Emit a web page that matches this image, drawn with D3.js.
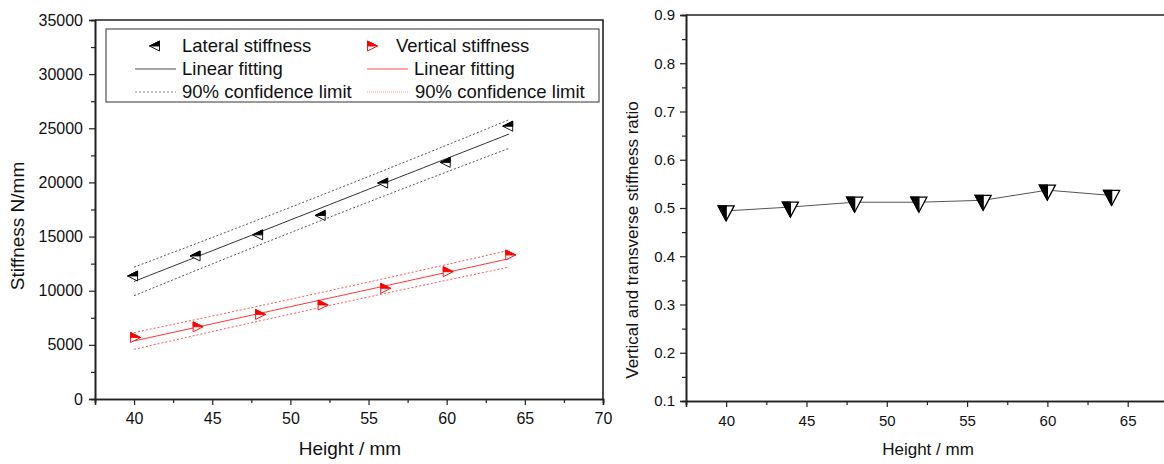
<!DOCTYPE html>
<html><head><meta charset="utf-8">
<script src="https://cdn.jsdelivr.net/npm/d3@7"></script>
<style>body{margin:0;background:#fff} text{font-family:"Liberation Sans",Arial,sans-serif;fill:#111}</style>
</head><body><svg id="c" width="1164" height="464"></svg>
<script>
// ---- data ----
const heights = [40, 44, 48, 52, 56, 60, 64];
const lateralStiffness = [11360, 13210, 15160, 16950, 19940, 21850, 25190];
const verticalStiffness = [5680, 6670, 7810, 8680, 10220, 11760, 13300];
const stiffnessRatio = [0.494, 0.502, 0.512, 0.512, 0.516, 0.537, 0.526];
const leftXTicks = [40, 45, 50, 55, 60, 65, 70];
const leftYTicks = [0, 5000, 10000, 15000, 20000, 25000, 30000, 35000];
const rightXTicks = [40, 45, 50, 55, 60, 65];
const rightYTicks = [0.1, 0.2, 0.3, 0.4, 0.5, 0.6, 0.7, 0.8, 0.9];
const legendLabels = ["Lateral stiffness", "Vertical stiffness", "Linear fitting", "90% confidence limit"];
const tValue90 = 2.015; // t(0.95, df=5)

const svg = d3.select("#c");

// linear regression with 90% prediction band
function fit(xs, ys) {
  const n = xs.length, xm = d3.mean(xs), ym = d3.mean(ys);
  const sxx = d3.sum(xs, x => (x - xm) ** 2);
  const sxy = d3.sum(xs, (x, i) => (x - xm) * (ys[i] - ym));
  const b = sxy / sxx, a = ym - b * xm;
  const sse = d3.sum(xs, (x, i) => (ys[i] - (a + b * x)) ** 2);
  const s = Math.sqrt(sse / (n - 2));
  const xsFine = d3.range(d3.min(xs), d3.max(xs) + 0.001, 0.5);
  return xsFine.map(x => {
    const yh = a + b * x;
    const h = tValue90 * s * Math.sqrt(1 + 1 / n + (x - xm) ** 2 / sxx);
    return {x, y: yh, lo: yh - h, hi: yh + h};
  });
}

function axisStyle(g) {
  g.selectAll(".domain").attr("stroke", "#222").attr("stroke-width", 1.6);
  g.selectAll(".tick line").attr("stroke", "#222").attr("stroke-width", 1.2);
}

// ---------- LEFT CHART ----------
const xL = d3.scaleLinear().domain([37.5, 70]).range([95, 603]);
const yL = d3.scaleLinear().domain([0, 35000]).range([399, 20]);
const gL = svg.append("g");

gL.append("path").attr("d", `M${xL(37.5)},${yL(35000)}H${xL(70)}V${yL(0)}`)
  .attr("fill", "none").attr("stroke", "#222").attr("stroke-width", 1.6);

gL.append("g").attr("transform", `translate(0,${yL(0)})`)
  .call(d3.axisBottom(xL).tickValues(d3.range(37.5, 70, 5)).tickSize(4).tickFormat(""))
  .call(axisStyle);
gL.append("g").attr("transform", `translate(${xL(37.5)},0)`)
  .call(d3.axisLeft(yL).tickValues(d3.range(2500, 35000, 5000)).tickSize(4).tickFormat(""))
  .call(axisStyle);
gL.append("g").attr("transform", `translate(0,${yL(0)})`)
  .call(d3.axisBottom(xL).tickValues(leftXTicks).tickSize(6).tickPadding(8).tickFormat(d3.format("d")))
  .call(axisStyle)
  .call(g => g.selectAll("text").attr("font-size", 16).attr("fill", "#111"));
gL.append("g").attr("transform", `translate(${xL(37.5)},0)`)
  .call(d3.axisLeft(yL).tickValues(leftYTicks).tickSize(6).tickPadding(6).tickFormat(d3.format("d")))
  .call(axisStyle)
  .call(g => g.selectAll("text").attr("font-size", 16).attr("fill", "#111"));

gL.append("text").attr("x", 350).attr("y", 455).attr("text-anchor", "middle")
  .attr("font-size", 19).text("Height / mm");
gL.append("text").attr("transform", "translate(24,226) rotate(-90)").attr("text-anchor", "middle")
  .attr("font-size", 19).text("Stiffness N/mm");

function drawFit(g, xs, ys, color, bandColor) {
  const f = fit(xs, ys);
  const line = key => d3.line().x(d => xL(d.x)).y(d => yL(d[key]));
  g.append("path").datum(f).attr("d", line("y")).attr("fill", "none")
    .attr("stroke", color).attr("stroke-width", 1);
  ["lo", "hi"].forEach(k => g.append("path").datum(f).attr("d", line(k)).attr("fill", "none")
    .attr("stroke", bandColor).attr("stroke-width", 1).attr("stroke-dasharray", "2,2"));
}
drawFit(gL, heights, lateralStiffness, "#333", "#555");
drawFit(gL, heights, verticalStiffness, "#f33", "#f55");

const leftTri = "M-6.5,0L3.5,-5L3.5,5Z", leftTriTop = "M-6.5,0L3.5,-5L3.5,0Z";
const rightTri = "M6.5,0L-3.5,-5L-3.5,5Z", rightTriTop = "M6.5,0L-3.5,-5L-3.5,0Z";
function marker(g, x, y, full, half, color) {
  const m = g.append("g").attr("transform", `translate(${x},${y})`);
  m.append("path").attr("d", full).attr("fill", "#fff").attr("stroke", color).attr("stroke-width", 0.9);
  m.append("path").attr("d", half).attr("fill", color).attr("stroke", color).attr("stroke-width", 0.9);
}
heights.forEach((h, i) => marker(gL, xL(h), yL(lateralStiffness[i]), leftTri, leftTriTop, "#000"));
heights.forEach((h, i) => marker(gL, xL(h), yL(verticalStiffness[i]), rightTri, rightTriTop, "#f00"));

// legend
const lg = gL.append("g");
lg.append("rect").attr("x", 106).attr("y", 29).attr("width", 493).attr("height", 73)
  .attr("fill", "#fff").attr("stroke", "#333").attr("stroke-width", 1);
const rowY = [46, 69, 92];
marker(lg, 156, rowY[0], leftTri, leftTriTop, "#000");
marker(lg, 371, rowY[0], rightTri, rightTriTop, "#f00");
lg.append("line").attr("x1", 135).attr("x2", 176).attr("y1", rowY[1]).attr("y2", rowY[1]).attr("stroke", "#888").attr("stroke-width", 1.5);
lg.append("line").attr("x1", 367).attr("x2", 408).attr("y1", rowY[1]).attr("y2", rowY[1]).attr("stroke", "#f88").attr("stroke-width", 1.5);
lg.append("line").attr("x1", 135).attr("x2", 176).attr("y1", rowY[2]).attr("y2", rowY[2]).attr("stroke", "#888").attr("stroke-width", 1).attr("stroke-dasharray", "2,2");
lg.append("line").attr("x1", 367).attr("x2", 408).attr("y1", rowY[2]).attr("y2", rowY[2]).attr("stroke", "#f99").attr("stroke-width", 1).attr("stroke-dasharray", "1,1");
const legText = [[182, rowY[0], legendLabels[0]], [396, rowY[0], legendLabels[1]],
  [182, rowY[1], legendLabels[2]], [414, rowY[1], legendLabels[2]],
  [182, rowY[2], legendLabels[3]], [415, rowY[2], legendLabels[3]]];
legText.forEach(([x, y, t]) => lg.append("text").attr("x", x).attr("y", y).attr("dy", "0.35em")
  .attr("font-size", 18.5).text(t));

// ---------- RIGHT CHART ----------
const xR = d3.scaleLinear().domain([37.5, 70]).range([686, 1208]);
const yR = d3.scaleLinear().domain([0.1, 0.9]).range([401, 15]);
const gR = svg.append("g");
gR.append("path").attr("d", `M${xR(37.5)},${yR(0.9)}H1170`).attr("stroke", "#222").attr("stroke-width", 1.6);
gR.append("g").attr("transform", `translate(0,${yR(0.1)})`)
  .call(d3.axisBottom(xR).tickValues(d3.range(37.5, 70, 5)).tickSize(4).tickFormat(""))
  .call(axisStyle);
gR.append("g").attr("transform", `translate(${xR(37.5)},0)`)
  .call(d3.axisLeft(yR).tickValues(d3.range(0.15, 0.9, 0.1)).tickSize(4).tickFormat(""))
  .call(axisStyle);
gR.append("g").attr("transform", `translate(0,${yR(0.1)})`)
  .call(d3.axisBottom(xR).tickValues(rightXTicks).tickSize(6).tickPadding(8).tickFormat(d3.format("d")))
  .call(axisStyle)
  .call(g => g.selectAll("text").attr("font-size", 15).attr("fill", "#111"));
gR.append("g").attr("transform", `translate(${xR(37.5)},0)`)
  .call(d3.axisLeft(yR).tickValues(rightYTicks).tickSize(6).tickPadding(5).tickFormat(d3.format(".1f")))
  .call(axisStyle)
  .call(g => g.selectAll("text").attr("font-size", 15).attr("fill", "#111"));
gR.append("text").attr("x", 928).attr("y", 455).attr("text-anchor", "middle")
  .attr("font-size", 17).text("Height / mm");
gR.append("text").attr("transform", "translate(638,240) rotate(-90)").attr("text-anchor", "middle")
  .attr("font-size", 17).text("Vertical and transverse stiffness ratio");

gR.append("path").datum(heights.map((h, i) => [h, stiffnessRatio[i]]))
  .attr("d", d3.line().x(d => xR(d[0])).y(d => yR(d[1])))
  .attr("fill", "none").attr("stroke", "#555").attr("stroke-width", 1);
const downTri = "M-8,-5L8,-5L0,10Z", downTriLeft = "M-8,-5L0,-5L0,10Z";
heights.forEach((h, i) => {
  const m = gR.append("g").attr("transform", `translate(${xR(h)},${yR(stiffnessRatio[i])})`);
  m.append("path").attr("d", downTri).attr("fill", "#fff").attr("stroke", "#000").attr("stroke-width", 1.3);
  m.append("path").attr("d", downTriLeft).attr("fill", "#000").attr("stroke", "#000").attr("stroke-width", 1.3);
});
</script></body></html>
